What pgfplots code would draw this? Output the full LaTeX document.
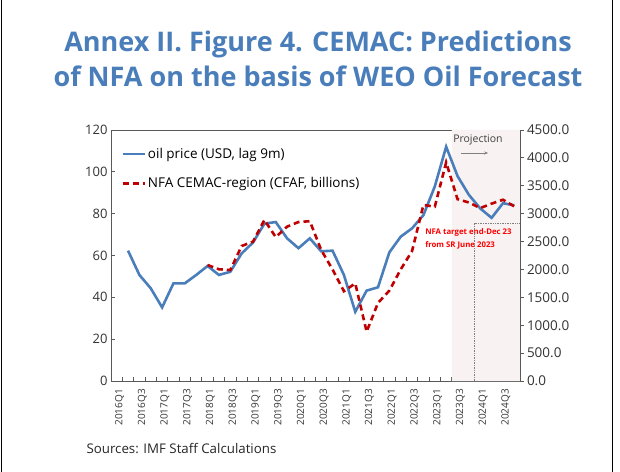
\documentclass[border=0pt]{standalone}
\usepackage{fontspec}
\setmainfont{Open Sans}
\usepackage{pgfplots}
\usepackage{pgfplotstable}
\pgfplotsset{compat=1.18}
\usetikzlibrary{arrows.meta}
\definecolor{oilblue}{HTML}{4A7EBB}
\definecolor{nfared}{HTML}{C00000}
\definecolor{titleblue}{HTML}{4A7EBB}
\definecolor{projshade}{HTML}{F8F3F2}
\definecolor{axisgray}{HTML}{595959}

% quarter index: 0 = 2016Q1
\pgfplotstableread{
q oil
1 62.3
2 50.7
3 44.3
4 35.2
5 46.7
6 46.7
7 50.7
8 55.0
9 50.7
10 52.2
11 61.0
12 66.2
13 75.2
14 76.0
15 68.2
16 63.5
17 68.2
18 62.0
19 62.3
20 50.7
21 33.1
22 43.2
23 44.8
24 61.5
25 69.0
26 73.0
27 79.3
28 93.0
29 112.0
30 98.0
31 89.0
32 82.5
33 78.0
34 85.0
35 84.0
}\oiltable

\pgfplotstableread{
q nfa
8 2080
9 2003
10 1990
11 2420
12 2498
13 2887
14 2580
15 2767
16 2850
17 2865
18 2350
19 2000
20 1610
21 1750
22 884
23 1400
24 1620
25 2000
26 2330
27 3156
28 3125
29 3920
30 3260
31 3200
32 3100
33 3180
34 3250
35 3130
}\nfatable

\begin{document}
\begin{tikzpicture}
\useasboundingbox (0,0) rectangle (620bp,472bp);
\fill[white] (0,0) rectangle (620bp,472bp);
\draw[black, line width=1bp] (1bp,0) -- (1bp,472bp);
\draw[black, line width=1bp] (612bp,0) -- (612bp,472bp);

\node[text=titleblue, font=\fontsize{27bp}{35bp}\selectfont\bfseries, align=center] at (318bp,413bp)
  {Annex II. Figure 4. CEMAC: Predictions\\of NFA on the basis of WEO Oil Forecast};

\node[anchor=west, font=\fontsize{13.3bp}{15bp}\selectfont, text=black!85] at (83bp,23bp) {Sources: IMF Staff Calculations};

\begin{axis}[
    at={(111bp,91bp)}, anchor=south west,
    scale only axis, width=409bp, height=251bp,
    xmin=-0.5, xmax=35.5, ymin=0, ymax=120,
    clip=false,
    ytick={0,20,...,120}, ytick pos=left,
    xtick={0.5,1.5,...,34.5}, xticklabels={}, xtick pos=bottom,
    tick align=inside, major tick length=3.5bp,
    extra x ticks={0.25,2.25,...,34.25},
    extra x tick labels={2016Q1,2016Q3,2017Q1,2017Q3,2018Q1,2018Q3,2019Q1,2019Q3,2020Q1,2020Q3,2021Q1,2021Q3,2022Q1,2022Q3,2023Q1,2023Q3,2024Q1,2024Q3},
    extra x tick style={major tick length=0pt},
    xticklabel style={rotate=90, anchor=east, inner xsep=8bp, font=\fontsize{10bp}{12bp}\selectfont, text=black!80},
    yticklabel style={font=\fontsize{13bp}{15bp}\selectfont, text=black!80},
    /pgf/number format/assume math mode=true,
    axis line style={axisgray, line width=0.8bp},
    tick style={axisgray, line width=0.8bp},
    legend style={draw=none, fill=none, at={(0.02,0.945)}, anchor=north west,
        font=\fontsize{13.5bp}{16bp}\selectfont, row sep=14bp, inner xsep=2bp},
    legend cell align=left,
    legend image code/.code={\draw[#1] (0bp,0bp) -- (22bp,0bp);},
]
\addplot[fill=projshade, draw=none, forget plot] coordinates {(29.5,0) (29.5,120) (35.5,120) (35.5,0)} \closedcycle;
\addplot[oilblue, line width=2.6bp] table[x=q, y=oil] {\oiltable};
\addlegendentry{oil price (USD, lag 9m)}
\addlegendimage{nfared, line width=2.6bp, dash pattern=on 6bp off 4bp}
\addlegendentry{NFA CEMAC-region (CFAF, billions)}
\node[font=\fontsize{10.5bp}{12bp}\selectfont, text=black!75] at (axis cs:31.8,115.2) {Projection};
\draw[-{Stealth[length=4bp]}, gray, line width=0.8bp] (axis cs:30.3,109) -- (axis cs:32.7,109);
\node[anchor=west, align=left, font=\fontsize{7.8bp}{13bp}\selectfont\bfseries, text=red] at (axis cs:26.85,68.1)
  {NFA target end-Dec 23\\from SR June 2023};
\end{axis}

\begin{axis}[
    at={(111bp,91bp)}, anchor=south west,
    scale only axis, width=409bp, height=251bp,
    xmin=-0.5, xmax=35.5, ymin=0, ymax=4500,
    axis x line=none, axis y line*=right,
    ytick={0,500,...,4500},
    tick align=outside, major tick length=3.5bp,
    yticklabel style={font=\fontsize{13.5bp}{15bp}\selectfont, text=black!80,
        /pgf/number format/.cd, fixed, fixed zerofill, precision=1, 1000 sep={}},
    /pgf/number format/assume math mode=true,
    axis line style={axisgray, line width=0.8bp},
    tick style={axisgray, line width=0.8bp},
]
\addplot[gray, line width=0.7bp, densely dotted] coordinates {(31.5,0) (31.5,2830) (35.5,2830)};
\addplot[nfared, line width=2.6bp, dash pattern=on 6bp off 4bp] table[x=q, y=nfa] {\nfatable};
\end{axis}
\end{tikzpicture}
\end{document}
